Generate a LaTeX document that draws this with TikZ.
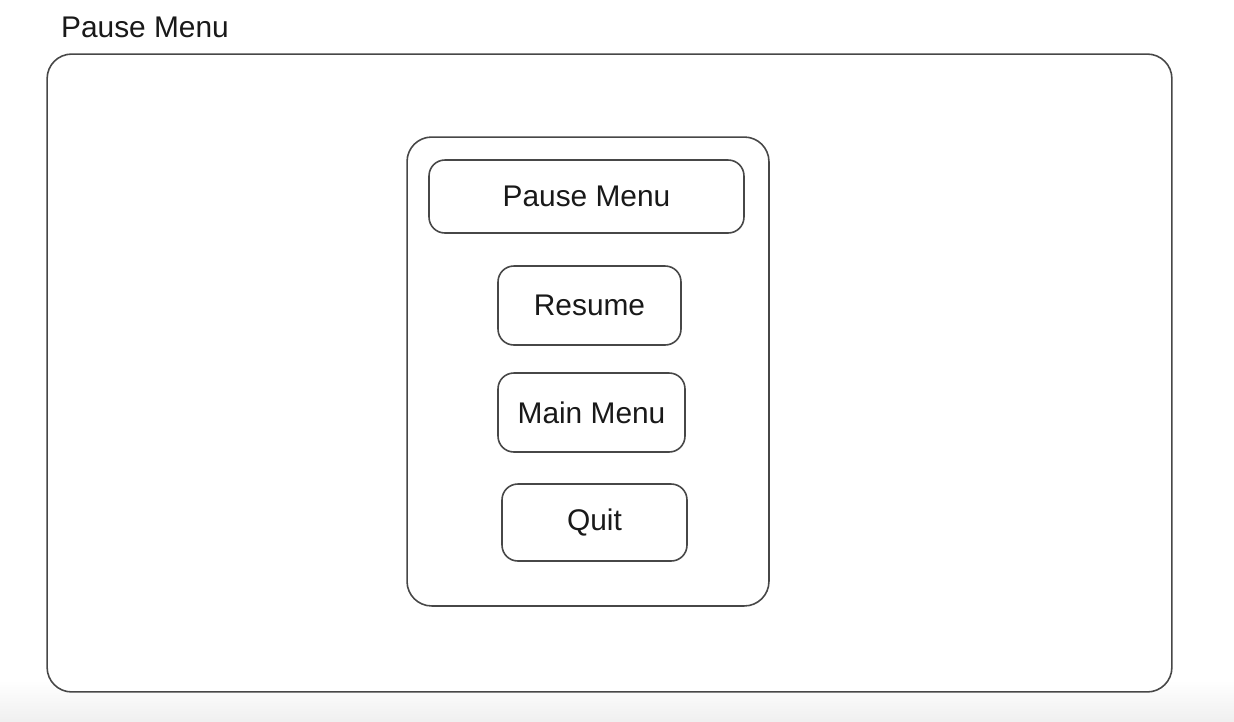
\documentclass[tikz,border=0pt]{standalone}
\usepackage{fontspec}
\setmainfont{Liberation Sans}
\usepackage{tikz}

\tikzset{
  sketch/.style={draw=black!72, line width=0.9pt, fill=white},
  menubox/.style={sketch, rounded corners=9pt, inner sep=0pt,
    font=\fontsize{17}{20}\selectfont, text=black!90},
}

\begin{document}
\begin{tikzpicture}[x=0.02cm, y=-0.02cm]
            \useasboundingbox (0,0) rectangle (1234,721);
            \fill[white] (0,0) rectangle (1234,721);
            \shade[top color=white, bottom color=black!6] (0,680) rectangle (1234,721);

            \node[text=black!90, font=\fontsize{17}{20}\selectfont] (title) at (145,27) {Pause Menu};

            \node[sketch, rounded corners=14pt, minimum width=22.5cm, minimum height=12.76cm] (screen) at (609.5,373) {};
            \node[sketch, rounded corners=14pt, minimum width=7.24cm, minimum height=9.38cm] (panel) at (588,371.5) {};

            \node[menubox, minimum width=6.30cm, minimum height=1.46cm] (header) at (586.5,196.5) {Pause Menu};
            \node[menubox, minimum width=3.66cm, minimum height=1.58cm] (resume) at (589.5,305.5) {Resume};
            \node[menubox, minimum width=3.74cm, minimum height=1.58cm] (mainmenu) at (591.5,412.5) {Main Menu};
            \node[menubox, minimum width=3.70cm, minimum height=1.54cm] (quit) at (594.5,522.5) {Quit};

            \end{tikzpicture}
\end{document}
